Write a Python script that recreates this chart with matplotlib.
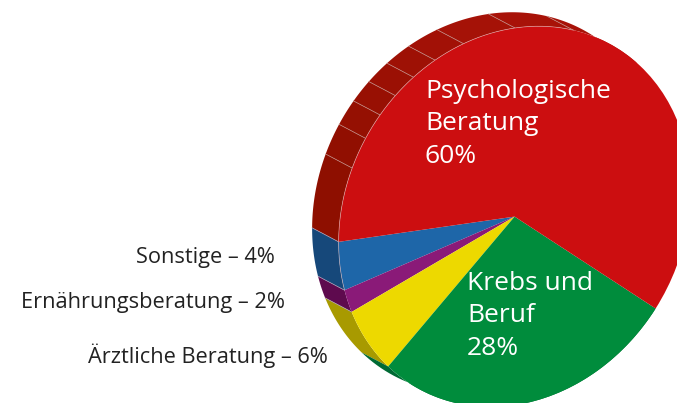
import numpy as np
import matplotlib
matplotlib.use('Agg')
import matplotlib.pyplot as plt
from matplotlib.colors import to_rgb
from matplotlib.patches import Wedge
from matplotlib.transforms import Affine2D

plt.rcParams['font.family'] = ['Open Sans', 'DejaVu Sans']

names = ['Sonstige', 'Ernährungsberatung', 'Ärztliche Beratung', 'Krebs und\nBeruf', 'Psychologische\nBeratung']
labels_pct = [4, 2, 6, 28, 60]
# slice sizes as drawn (the printed labels are rounded)
shares = [4.2, 2.03, 6.08, 27.55, 60.14]
face_colors = ['#1E66A8', '#8A1A78', '#EDD900', '#008C3C', '#CC0E10']
rim_colors = ['#16487A', '#5E0A4E', '#A89A00', '#006A34']
# where the separators on the red rim sit (degrees round the disc)
red_rim_seps = [101.5, 92, 84, 76.8, 69.2, 61, 51, 34, 14.6]

START = 123.9
CENTER = np.array([514.6, 216.6])
# pie seen at a slant, unit circle -> pixels
AXIS_A = 197.1 * np.array([0.501, -0.866])
AXIS_B = 168.2 * np.array([-0.866, -0.501])
DEPTH = np.array([-26.5, -14.0])


def arc(t1, t2):
    t = np.radians(np.linspace(t1, t2, 60))
    return CENTER + np.outer(np.cos(t), AXIS_A) + np.outer(np.sin(t), AXIS_B)


def rim(ax, t1, t2, color):
    front = arc(t1, t2)
    poly = np.vstack([front, (front + DEPTH)[::-1]])
    ax.fill(poly[:, 0], poly[:, 1], color=color, lw=0, zorder=2)


def rim_line(ax, t, color):
    p = arc(t, t)[0]
    q = p + DEPTH
    ax.plot([p[0], q[0]], [p[1], q[1]], color=color, lw=0.5, zorder=3)


fig = plt.figure(figsize=(6.77, 4.03), dpi=100)
ax = fig.add_axes([0, 0, 1, 1])
ax.set_xlim(0, 677)
ax.set_ylim(403, 0)
ax.axis('off')

edges = START + np.cumsum([0] + shares) * 3.6
to_px = Affine2D.from_values(*AXIS_A, *AXIS_B, *CENTER) + ax.transData

for i in range(4):
    rim(ax, edges[i], edges[i + 1], rim_colors[i])

# the big red slice has a segmented rim that gets lighter towards the top
dark, light = np.array(to_rgb('#8E0F00')), np.array(to_rgb('#A81208'))
bounds = [START] + red_rim_seps + [-10]
for i in range(len(bounds) - 1):
    mix = min(i / (len(bounds) - 3), 1)
    rim(ax, bounds[i], bounds[i + 1], dark + (light - dark) * mix)

for t in red_rim_seps:
    rim_line(ax, t, '#C08A84')
for t in edges[:3]:
    rim_line(ax, t, '#A8A0B8')

for i in range(5):
    ax.add_patch(Wedge((0, 0), 1, edges[i], edges[i + 1], fc=face_colors[i], ec='none', lw=0,
                       transform=to_px, zorder=4))

front_edge = arc(red_rim_seps[-1], edges[1])
ax.plot(front_edge[:, 0], front_edge[:, 1], color='#E0B8B8', lw=0.5, alpha=0.7, zorder=5)

ax.text(425, 124, f'{names[4]}\n{labels_pct[4]}%', color='white', fontsize=19, va='center', ha='left',
        linespacing=1.37, zorder=6)
ax.text(467, 316, f'{names[3]}\n{labels_pct[3]}%', color='white', fontsize=19, va='center', ha='left',
        linespacing=1.37, zorder=6)

ax.text(275, 258, f'{names[0]} – {labels_pct[0]}%', color='#222222', fontsize=15.7, va='center', ha='right')
ax.text(285, 302.5, f'{names[1]} – {labels_pct[1]}%', color='#222222', fontsize=15.7, va='center', ha='right')
ax.text(328, 356, f'{names[2]} – {labels_pct[2]}%', color='#222222', fontsize=15.7, va='center', ha='right')

fig.savefig('out.png', dpi=100)
